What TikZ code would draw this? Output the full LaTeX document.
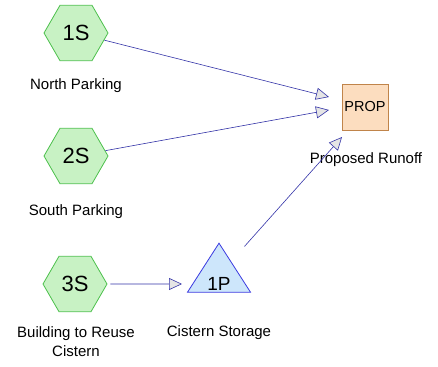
\documentclass[tikz,border=0pt]{standalone}
\usepackage{fontspec}
\setmainfont{Liberation Sans}
\usetikzlibrary{shapes.geometric,arrows.meta}

\definecolor{subfill}{HTML}{C8F2C4}
\definecolor{subline}{HTML}{4CC04C}
\definecolor{pondfill}{HTML}{CDE6FB}
\definecolor{pondline}{HTML}{3A3AE0}
\definecolor{reachfill}{HTML}{FCDDBF}
\definecolor{reachline}{HTML}{C0844A}
\definecolor{linkline}{HTML}{3434A8}

\tikzset{
	subcat/.style = {regular polygon, regular polygon sides=6, minimum size=64pt, inner sep=0pt,
		draw=subline, fill=subfill, line width=0.8pt, font=\fontsize{22}{24}\selectfont},
	pond/.style = {isosceles triangle, isosceles triangle apex angle=66, isosceles triangle stretches,
		shape border rotate=90, minimum width=63pt, minimum height=49pt, inner sep=0pt,
		draw=pondline, fill=pondfill, line width=0.8pt},
	pondtext/.style = {inner sep=0pt, font=\fontsize{19}{21}\selectfont},
	reach/.style = {rectangle, minimum size=46pt, inner sep=0pt,
		draw=reachline, fill=reachfill, line width=0.8pt, font=\fontsize{14.5}{16}\selectfont},
	caption/.style = {align=center, font=\fontsize{15}{19}\selectfont},
	link/.style = {draw=linkline, line width=0.6pt,
		-{Triangle[length=13pt, width=12pt, fill=gray!20]}}
}

\begin{document}
	\begin{tikzpicture}[x=1pt, y=-1pt]
		\useasboundingbox (0,0) rectangle (438,366);
		% subcatchments
		\node[subcat] (s1) at (76,33) {1S};
		\node[subcat] (s2) at (76,156) {2S};
		\node[subcat] (s3) at (75,284) {3S};
		\node[caption] (c1) at (76,86) {North Parking};
		\node[caption] (c2) at (76,212) {South Parking};
		\node[caption] (c3) at (76,342) {Building to Reuse\\Cistern};
		% pond and reach
		\node[pond] (p1) at (219,275) {};
		\node[pondtext] (t1) at (219,284) {1P};
		\node[caption] (cp) at (219,333) {Cistern Storage};
		\node[reach] (prop) at (365,107) {PROP};
		\node[caption] (cr) at (366,160) {Proposed Runoff};
		% ends of links
		\coordinate (e1) at (329,97);
		\coordinate (e2) at (329,110);
		\coordinate (e3) at (182,284);
		\coordinate (e4) at (342,137);
		\draw[link] (s1) -- (e1);
		\draw[link] (s2) -- (e2);
		\draw[link, shorten <=3pt] (s3) -- (e3);
		\draw[link, shorten <=20pt] (p1) -- (e4);
	\end{tikzpicture}
\end{document}
